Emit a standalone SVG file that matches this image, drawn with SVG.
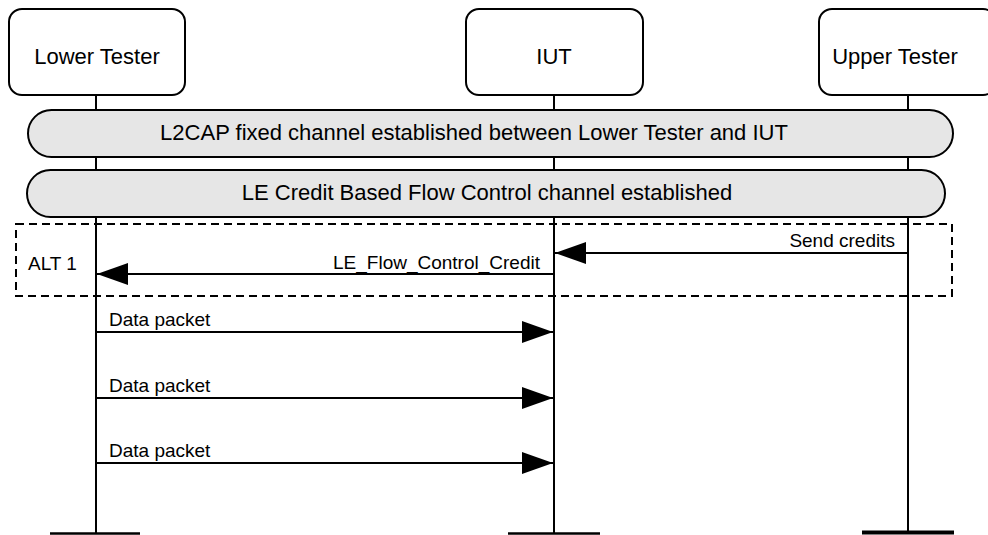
<svg xmlns="http://www.w3.org/2000/svg" width="988" height="535" viewBox="0 0 988 535">
<style>
text{font-family:"Liberation Sans",Arial,sans-serif;fill:#000}
.hdr{fill:#fff;stroke:#000;stroke-width:2}
.ht{font-size:22px;text-anchor:middle}
.life{stroke:#000;stroke-width:2}
.ban{fill:#e6e6e6;stroke:#000;stroke-width:2}
.msg{stroke:#000;stroke-width:2;fill:none}
.ml{font-size:19px}
.end{stroke:#000;stroke-width:2.5}
</style>
<defs>
<marker id="ah" markerUnits="userSpaceOnUse" markerWidth="32" markerHeight="22" refX="31" refY="11" orient="auto">
<path d="M0,0 L31,11 L0,22 Z" fill="#000"/>
</marker>
</defs>
<g id="lifelines">
<line class="life" x1="96" y1="95" x2="96" y2="534"/>
<line class="life" x1="554" y1="95" x2="554" y2="534"/>
<line class="life" x1="908" y1="95" x2="908" y2="534"/>
<line class="end" x1="50" y1="533.5" x2="140" y2="533.5"/>
<line class="end" x1="508" y1="533.5" x2="600" y2="533.5"/>
<line x1="862" y1="532.5" x2="954" y2="532.5" stroke="#000" stroke-width="4"/>
</g>
<g id="lower-tester">
<rect class="hdr" x="9" y="9" width="176" height="86" rx="13"/>
<text class="ht" x="97" y="64">Lower Tester</text>
</g>
<g id="iut">
<rect class="hdr" x="466" y="9" width="177" height="86" rx="13"/>
<text class="ht" x="554" y="64">IUT</text>
</g>
<g id="upper-tester">
<rect class="hdr" x="819" y="9" width="177" height="86" rx="13"/>
<text class="ht" x="895" y="64">Upper Tester</text>
</g>
<g id="banner-l2cap">
<rect class="ban" x="28" y="110" width="925" height="47" rx="23.5"/>
<text class="ht" x="474" y="140">L2CAP fixed channel established between Lower Tester and IUT</text>
</g>
<g id="banner-le">
<rect class="ban" x="27" y="170" width="918" height="47" rx="23.5"/>
<text class="ht" x="487" y="200">LE Credit Based Flow Control channel established</text>
</g>
<g id="alt1">
<rect x="16" y="224" width="936" height="72" fill="none" stroke="#000" stroke-width="2" stroke-dasharray="8,5"/>
<text class="ml" x="28" y="270">ALT 1</text>
</g>
<g id="connectors">
<line class="msg" x1="908" y1="253" x2="555" y2="253" marker-end="url(#ah)"/>
<text class="ml" x="895" y="247" text-anchor="end">Send credits</text>
<line class="msg" x1="554" y1="274" x2="97" y2="274" marker-end="url(#ah)"/>
<text class="ml" x="540" y="269" text-anchor="end">LE_Flow_Control_Credit</text>
<line class="msg" x1="96" y1="332" x2="553" y2="332" marker-end="url(#ah)"/>
<text class="ml" x="109" y="326">Data packet</text>
<line class="msg" x1="96" y1="398" x2="553" y2="398" marker-end="url(#ah)"/>
<text class="ml" x="109" y="392">Data packet</text>
<line class="msg" x1="96" y1="463" x2="553" y2="463" marker-end="url(#ah)"/>
<text class="ml" x="109" y="457">Data packet</text>
</g>
</svg>
